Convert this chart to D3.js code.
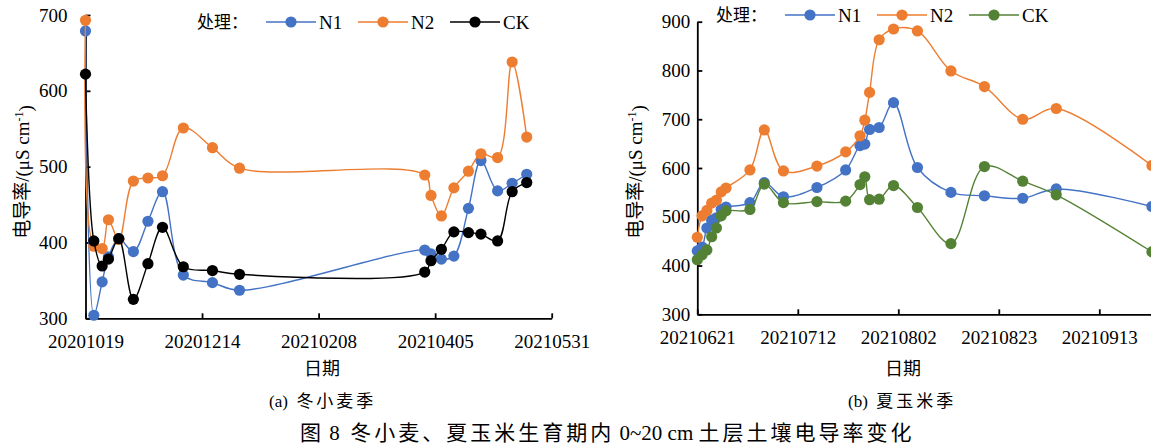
<!DOCTYPE html>
<html>
<head>
<meta charset="utf-8">
<script src="https://cdn.jsdelivr.net/npm/d3@7"></script>
<style>
  body { margin: 0; background: #fff; }
  svg { display: block; }
  text { font-family: "Liberation Serif", "Noto Sans CJK SC", serif; fill: #000; }
</style>
</head>
<body>
<script>
// winter wheat season (a)
const wheatDates = ["20201019","20201023","20201027","20201030","20201104","20201111","20201118","20201125","20201205","20201219","20210101","20210331","20210403","20210408","20210414","20210421","20210427","20210505","20210512","20210519"]
const wheatN1 = [679, 304, 348, 381, 405, 388, 428, 467, 357, 347, 337, 390, 385, 378, 382, 445, 508, 468, 478, 490]
const wheatN2 = [693, 395, 392, 430, 404, 481, 485, 488, 551, 525, 498, 489, 462, 435, 472, 494, 517, 512, 638, 539]
const wheatCK = [622, 402, 369, 378, 405, 325, 372, 420, 368, 363, 358, 361, 376, 391, 414, 413, 411, 402, 467, 479]
const wheatTicks = ["20201019","20201214","20210208","20210405","20210531"]
const wheatYTicks = [300, 400, 500, 600, 700]

// summer maize season (b)
const maizeDates = ["20210621","20210622","20210623","20210624","20210625","20210626","20210627","20210702","20210705","20210709","20210716","20210722","20210725","20210726","20210727","20210729","20210801","20210806","20210813","20210820","20210828","20210904","20210924"]
const maizeN1 = [430, 438, 477, 493, 498, 515, 520, 529, 570, 541, 560, 596, 646, 649, 679, 683, 734, 601, 550, 543, 538, 557, 521]
const maizeN2 = [458, 502, 513, 528, 534, 551, 559, 596, 678, 594, 604, 633, 666, 698, 755, 863, 885, 881, 799, 767, 700, 722, 605]
const maizeCK = [412, 422, 432, 459, 477, 502, 512, 515, 567, 529, 531, 532, 566, 582, 535, 536, 564, 519, 445, 603, 573, 545, 428]
const maizeTicks = ["20210621","20210712","20210802","20210823","20210913"]
const maizeYTicks = [300, 400, 500, 600, 700, 800, 900]

const seriesNames = ["N1", "N2", "CK"]

const parse = d3.utcParse("%Y%m%d")
const fmt = d3.utcFormat("%Y%m%d")

const svg = d3.select("body").append("svg")
  .attr("width", 1151)
  .attr("height", 445)

// text made of pieces, CJK pieces get a little extra spacing like the original
const spacedText = (sel, parts, ls) => {
  sel.style("white-space", "pre")
  parts.forEach(([t, cjk]) => {
    sel.append("tspan")
      .style("font-family", cjk ? "'Noto Sans CJK SC'" : "'Liberation Serif'")
      .style("letter-spacing", cjk ? ls + "px" : "0px")
      .text(t)
  })
}

const drawPanel = (p) => {
  const x = d3.scaleUtc()
    .domain([parse(p.xStart), parse(p.xEnd)])
    .range(p.xRange)
  const y = d3.scaleLinear()
    .domain(d3.extent(p.yTicks))
    .range(p.yRange)

  const g = svg.append("g")

  // axes, ticks point into the plot
  const xAxis = g.append("g")
    .attr("transform", `translate(0,${p.yRange[0]})`)
    .call(d3.axisBottom(x)
      .tickValues(p.xTicks.map(parse))
      .tickFormat(fmt)
      .tickSizeInner(-5)
      .tickSizeOuter(0)
      .tickPadding(16))
  const yAxis = g.append("g")
    .attr("transform", `translate(${p.xRange[0]},0)`)
    .call(d3.axisLeft(y)
      .tickValues(p.yTicks)
      .tickSizeInner(-5)
      .tickSizeOuter(0)
      .tickPadding(p.yPad))
  ;[xAxis, yAxis].forEach(a => {
    a.attr("font-family", null).attr("font-size", null)
    a.selectAll("path, line").attr("stroke", "#000").attr("stroke-width", 1.8)
    a.selectAll("text")
      .style("font-family", "'Liberation Serif'")
      .style("font-size", "19px")
  })

  const line = d3.line()
    .x(d => x(d.date))
    .y(d => y(d.value))
    .curve(d3.curveCatmullRom.alpha(0.5))

  p.series.forEach((s, i) => {
    const pts = p.dates.map((d, j) => ({ date: parse(d), value: s[j] }))
    g.append("path")
      .datum(pts)
      .attr("d", line)
      .attr("fill", "none")
      .attr("stroke", p.colors[i])
      .attr("stroke-width", 1.4)
    g.selectAll(null)
      .data(pts)
      .enter()
      .append("circle")
      .attr("cx", d => x(d.date))
      .attr("cy", d => y(d.value))
      .attr("r", 5.6)
      .attr("fill", p.colors[i])
  })

  // legend
  const lg = g.append("g").attr("transform", `translate(0,${p.legendY})`)
  lg.append("text")
    .attr("x", p.legendX)
    .attr("dy", "0.35em")
    .style("font-family", "'Noto Sans CJK SC'")
    .style("font-size", "17px")
    .text("处理：")
  seriesNames.forEach((name, i) => {
    const x0 = p.legendX + 69 + i * 92
    lg.append("line")
      .attr("x1", x0).attr("x2", x0 + 50)
      .attr("stroke", p.colors[i]).attr("stroke-width", 1.4)
    lg.append("circle")
      .attr("cx", x0 + 25).attr("r", 5.6)
      .attr("fill", p.colors[i])
    lg.append("text")
      .attr("x", x0 + 53)
      .attr("dy", "0.35em")
      .style("font-family", "'Liberation Serif'")
      .style("font-size", "19px")
      .text(name)
  })

  // y-axis title
  const yt = g.append("text")
    .attr("transform", `translate(${p.yTitleX},${p.yTitleY}) rotate(-90)`)
    .attr("text-anchor", "middle")
    .attr("dy", "0.35em")
    .style("font-size", "19px")
  yt.append("tspan").style("font-family", "'Noto Sans CJK SC'").text("电导率")
  yt.append("tspan").style("font-family", "'Liberation Serif'").text("/(μS cm")
  yt.append("tspan").attr("dy", "-0.45em").style("font-size", "12px").text("-1")
  yt.append("tspan").attr("dy", "0.45em").text(")")

  g.append("text")
    .attr("x", p.xTitleX).attr("y", 369)
    .attr("text-anchor", "middle").attr("dy", "0.35em")
    .style("font-family", "'Noto Sans CJK SC'")
    .style("font-size", "18px")
    .text("日期")

  const sub = g.append("text")
    .attr("x", p.subX).attr("y", 401)
    .attr("dy", "0.35em")
    .style("font-size", "17px")
  spacedText(sub, [[p.subtitle[0] + "  ", false], [p.subtitle[1], true]], 3)
}

drawPanel({
  dates: wheatDates,
  series: [wheatN1, wheatN2, wheatCK],
  colors: ["#4472C4", "#ED7D31", "#000000"],
  xStart: "20201019", xEnd: "20210531",
  xRange: [85.5, 551.7],
  yRange: [318.3, 15],
  xTicks: wheatTicks,
  yTicks: wheatYTicks,
  yPad: 18,
  legendX: 197, legendY: 22,
  yTitleX: 22, yTitleY: 172,
  xTitleX: 322,
  subX: 269,
  subtitle: ["(a)", "冬小麦季"]
})

drawPanel({
  dates: maizeDates,
  series: [maizeN1, maizeN2, maizeCK],
  colors: ["#4472C4", "#ED7D31", "#548235"],
  xStart: "20210621", xEnd: "20211004",
  xRange: [697.3, 1199.8],
  yRange: [314.3, 21.7],
  xTicks: maizeTicks,
  yTicks: maizeYTicks,
  yPad: 7,
  legendX: 716, legendY: 15,
  yTitleX: 635, yTitleY: 172,
  xTitleX: 903,
  subX: 848,
  subtitle: ["(b)", "夏玉米季"]
})

const caption = svg.append("text")
  .attr("x", 300).attr("y", 433)
  .attr("dy", "0.35em")
  .style("font-size", "21px")
spacedText(caption, [
  ["图", true], [" 8  ", false], ["冬小麦、夏玉米生育期内", true],
  [" 0~20 cm ", false], ["土层土壤电导率变化", true]
], 3)
</script>
</body>
</html>
